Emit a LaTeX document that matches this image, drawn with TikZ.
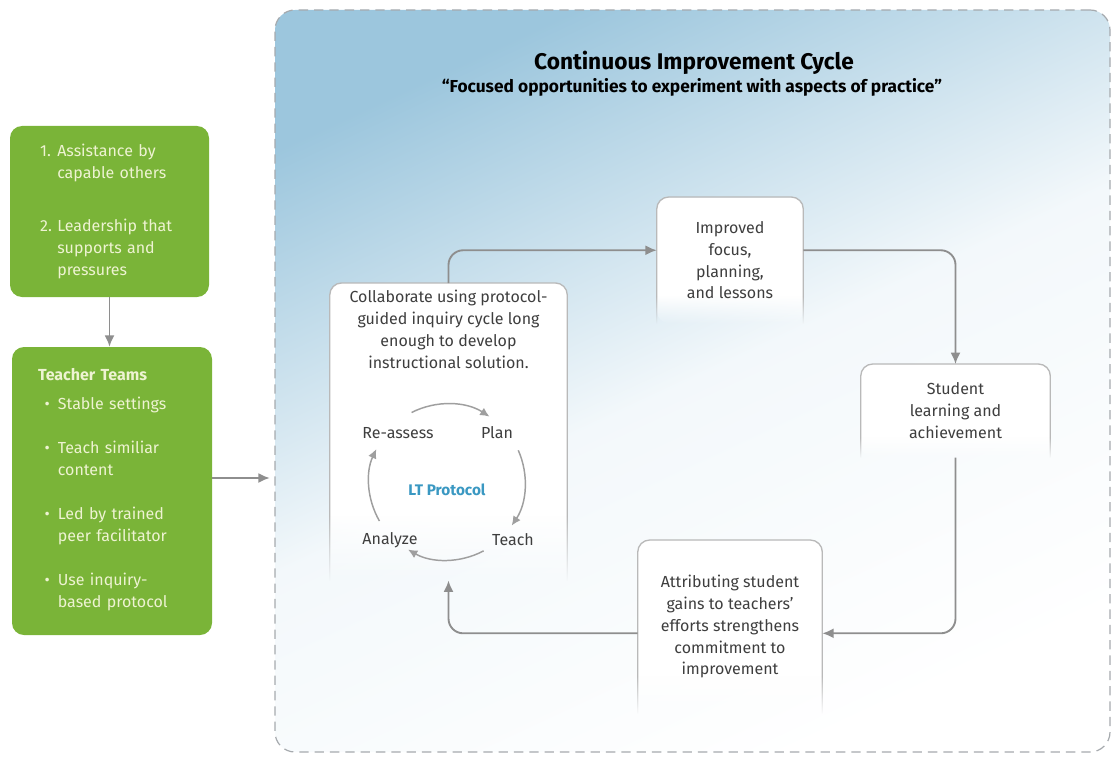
\documentclass[tikz,border=0pt]{standalone}
\usepackage{fontspec}
\setmainfont{Fira Sans}
\usetikzlibrary{positioning,fadings,arrows.meta}

\definecolor{leafgreen}{HTML}{7AB438}
\definecolor{paletext}{HTML}{EEF3D2}
\definecolor{linegrey}{HTML}{8E8E8E}
\definecolor{framegrey}{HTML}{B9B9B9}
\definecolor{inkgrey}{HTML}{3E3E3E}
\definecolor{ltblue}{HTML}{3A98C2}
\definecolor{skyblue}{HTML}{9CC6DD}
\definecolor{dashgrey}{HTML}{A6AAAE}

\begin{tikzfadingfrompicture}[name=boxfade]
  \fill[transparent!0] (-50bp,-14bp) rectangle (50bp,50bp);
  \shade[top color=transparent!0, bottom color=transparent!100] (-50bp,-25bp) rectangle (50bp,-14bp);
  \fill[transparent!100] (-50bp,-50bp) rectangle (50bp,-25bp);
\end{tikzfadingfrompicture}

\begin{document}
\begin{tikzpicture}
[
    x=0.75pt, y=-0.75pt,
    greenbox/.style  = {fill=leafgreen,
                        rounded corners=9pt,
                        text=paletext,
                        align=left,
                        inner sep=0pt,
                        font=\fontsize{12}{16.5}\selectfont},
    cyclebg/.style   = {draw=dashgrey,
                        line width=0.9pt,
                        dash pattern=on 7pt off 4.5pt,
                        rounded corners=15pt,
                        top color=skyblue,
                        bottom color=white,
                        middle color=skyblue!12!white,
                        shading angle=25},
    stagebox/.style  = {fill=white,
                        rounded corners=9pt,
                        path fading=boxfade,
                        anchor=north,
                        align=center,
                        inner sep=0pt,
                        text=inkgrey,
                        font=\fontsize{12}{16.3}\selectfont},
    frame/.style     = {draw=framegrey,
                        line width=1pt,
                        rounded corners=9pt,
                        path fading=boxfade},
    steplabel/.style = {text=inkgrey,
                        font=\fontsize{12}{14}\selectfont},
    arr/.style       = {draw=linegrey,
                        line width=1.4pt,
                        rounded corners=11pt,
                        -{Latex[length=8.5pt,width=7.5pt]}},
    cyclearr/.style  = {draw=linegrey!85,
                        line width=1.1pt,
                        -{Latex[length=7pt,width=6.5pt]}}
]

\useasboundingbox (0,0) rectangle (1112,756);

\node (cyclebox) [cyclebg, minimum width=626.25pt, minimum height=556.5pt] at (692.5,381) {};

\node (title) [font=\fontsize{17}{20}\bfseries\selectfont] at (694,63) {Continuous Improvement Cycle};
\node (motto) [font=\fontsize{13}{16}\bfseries\selectfont] at (692,87) {“Focused opportunities to experiment with aspects of practice”};

\node (support) [greenbox, minimum width=149.25pt, minimum height=128.25pt, text width=104pt] at (109.5,211.5) {
\begin{tabular}{@{}l@{\ }l@{}}
1. & Assistance by\\
   & capable others\\[23pt]
2. & Leadership that\\
   & supports and\\
   & pressures
\end{tabular}
};

\node (teams) [greenbox, minimum width=150pt, minimum height=216pt, text width=111pt] at (112,491) {
\textbf{Teacher Teams}\\[9pt]
\begin{tabular}{@{\hspace{5pt}}l@{\hspace{6pt}}l@{}}
\textbullet & Stable settings\\[16.5pt]
\textbullet & Teach similiar\\
            & content\\[16.5pt]
\textbullet & Led by trained\\
            & peer facilitator\\[16.5pt]
\textbullet & Use inquiry-\\
            & based protocol
\end{tabular}
};

\node (collab) [stagebox, minimum width=177.75pt, minimum height=222.75pt] at (448.5,283) {};
\node (collabtext) [steplabel, align=center, below=2pt of collab.north, font=\fontsize{12}{16.3}\selectfont] {
Collaborate using protocol-\\
guided inquiry cycle long\\
enough to develop\\
instructional solution.
};

\node (improved) [stagebox, minimum width=109.5pt, minimum height=94.5pt] at (730,197) {
Improved\\
focus,\\
planning,\\
and lessons
};

\node (student) [stagebox, minimum width=141.75pt, minimum height=69.75pt] at (955.5,364) {
Student\\
learning and\\
achievement
};

\node (attrib) [stagebox, minimum width=138pt, minimum height=129.75pt] at (730,540) {
Attributing student\\
gains to teachers’\\
efforts strengthens\\
commitment to\\
improvement
};

\draw[frame] (collab.south west) |- (collab.north) -| (collab.south east);
\draw[frame] (improved.south west) |- (improved.north) -| (improved.south east);
\draw[frame] (student.south west) |- (student.north) -| (student.south east);
\draw[frame] (attrib.south west) |- (attrib.north) -| (attrib.south east);

\coordinate (hub) at (447,482);
\node (lt) [text=ltblue, font=\fontsize{11.5}{14}\bfseries\selectfont] at (447,490) {LT Protocol};
\node (reassess) [steplabel] at (398,433) {Re-assess};
\node (plan) [steplabel] at (497,433) {Plan};
\node (teach) [steplabel] at (513,540) {Teach};
\node (analyze) [steplabel] at (390,540) {Analyze};

\draw[cyclearr] ([shift={(117:58.5pt)}]hub) arc[start angle=117, end angle=57, radius=58.5pt];
\draw[cyclearr] ([shift={(24:58.5pt)}]hub) arc[start angle=24, end angle=-34, radius=58.5pt];
\draw[cyclearr] ([shift={(-62:58.5pt)}]hub) arc[start angle=-62, end angle=-120, radius=58.5pt];
\draw[cyclearr] ([shift={(-150:58.5pt)}]hub) arc[start angle=-150, end angle=-205, radius=58.5pt];

\draw[arr] (support.south) -- (support.south |- teams.north);
\draw[arr, shorten >=3.5pt] ([yshift=9.75pt]teams.east) -- ([yshift=9.75pt]teams.east -| cyclebox.west);
\draw[arr] (collab.north) |- ([yshift=7.5pt]improved.west);
\draw[arr] ([yshift=7.5pt]improved.east) -| (student.north);
\draw[arr] (student.south) |- ([yshift=-4.9pt]attrib.east);
\draw[arr] ([yshift=-4.9pt]attrib.west) -| (collab.south);

\end{tikzpicture}
\end{document}
